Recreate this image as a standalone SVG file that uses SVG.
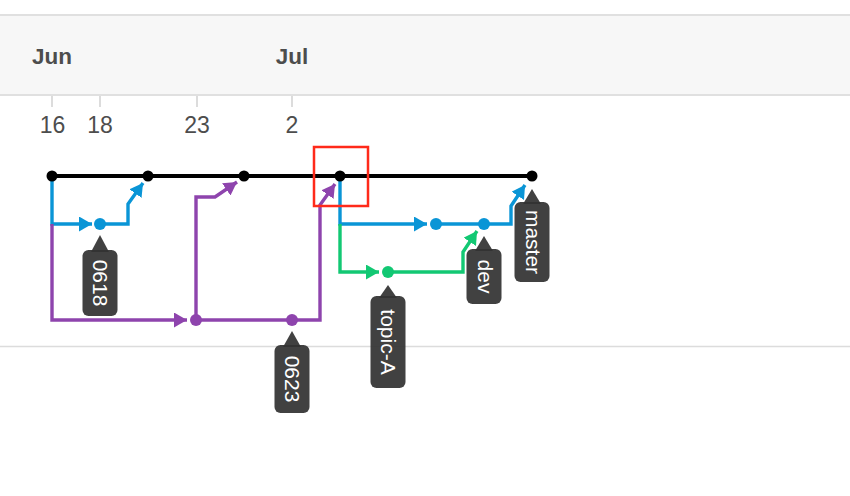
<svg xmlns="http://www.w3.org/2000/svg" width="850" height="496" viewBox="0 0 850 496">
<style>
.axis{font-family:"Liberation Sans",Arial,sans-serif;fill:#4d4d4d;}
.month{font-size:22.5px;font-weight:bold;}
.day{font-size:23px;}
.tick{stroke:#dcdcdc;stroke-width:2;}
.br{fill:none;stroke-width:3.4;stroke-linejoin:miter;}
.blue{stroke:#0a95d6;}
.purple{stroke:#8e44ad;}
.green{stroke:#12c873;}
.lbl rect,.lbl polygon{fill:#333;fill-opacity:0.93;}
.lbl text{font-family:"Liberation Sans",Arial,sans-serif;font-size:21px;fill:#fff;text-anchor:middle;}
</style>
<defs>
<marker id="ab" markerUnits="userSpaceOnUse" markerWidth="15" markerHeight="15" refX="13" refY="7.5" orient="auto" viewBox="0 0 15 15"><path d="M0,0 L13,7.5 L0,15 z" fill="#0a95d6"/></marker>
<marker id="ap" markerUnits="userSpaceOnUse" markerWidth="15" markerHeight="15" refX="13" refY="7.5" orient="auto" viewBox="0 0 15 15"><path d="M0,0 L13,7.5 L0,15 z" fill="#8e44ad"/></marker>
<marker id="ag" markerUnits="userSpaceOnUse" markerWidth="15" markerHeight="15" refX="13" refY="7.5" orient="auto" viewBox="0 0 15 15"><path d="M0,0 L13,7.5 L0,15 z" fill="#12c873"/></marker>
</defs>
<rect width="850" height="496" fill="#fff"/>
<g id="axis">
<rect x="0" y="15" width="850" height="80" fill="#f7f7f7"/>
<line x1="0" y1="15" x2="850" y2="15" stroke="#e0e0e0" stroke-width="2"/>
<line x1="0" y1="95" x2="850" y2="95" stroke="#e0e0e0" stroke-width="2"/>
<text class="axis month" x="52" y="64" text-anchor="middle">Jun</text>
<text class="axis month" x="292" y="64" text-anchor="middle">Jul</text>
<line class="tick" x1="52" y1="96" x2="52" y2="107"/>
<line class="tick" x1="100" y1="96" x2="100" y2="107"/>
<line class="tick" x1="197" y1="96" x2="197" y2="107"/>
<line class="tick" x1="292" y1="96" x2="292" y2="107"/>
<text class="axis day" x="52.5" y="132.5" text-anchor="middle">16</text>
<text class="axis day" x="100" y="132.5" text-anchor="middle">18</text>
<text class="axis day" x="197" y="132.5" text-anchor="middle">23</text>
<text class="axis day" x="292" y="132.5" text-anchor="middle">2</text>
<line x1="0" y1="346.5" x2="850" y2="346.5" stroke="#dcdcdc" stroke-width="1.5"/>
</g>
<g id="connectors">
<line x1="52" y1="176" x2="532" y2="176" stroke="#000" stroke-width="4"/>
<path class="br blue" d="M52,176 V224 H92" marker-end="url(#ab)"/>
<path class="br blue" d="M100,224 H128 V204 L143,183" marker-end="url(#ab)"/>
<path class="br purple" d="M52,224 V320 H187" marker-end="url(#ap)"/>
<path class="br purple" d="M196,320 V197 H215 L237,182" marker-end="url(#ap)"/>
<path class="br purple" d="M196,320 H320 V205 L335,184" marker-end="url(#ap)"/>
<path class="br blue" d="M340,176 V224 H427" marker-end="url(#ab)"/>
<path class="br blue" d="M436,224 H511 V206 L525,185" marker-end="url(#ab)"/>
<path class="br green" d="M340,224 V272 H379" marker-end="url(#ag)"/>
<path class="br green" d="M388,272 H463 V252 L477,231" marker-end="url(#ag)"/>
</g>
<g id="commits">
<circle cx="52" cy="176" r="5.5" fill="#000"/>
<circle cx="148" cy="176" r="5.5" fill="#000"/>
<circle cx="244" cy="176" r="5.5" fill="#000"/>
<circle cx="340" cy="176" r="5.5" fill="#000"/>
<circle cx="532" cy="176" r="5.5" fill="#000"/>
<circle cx="100" cy="224" r="6" fill="#0a95d6"/>
<circle cx="436" cy="224" r="6" fill="#0a95d6"/>
<circle cx="484" cy="224" r="6" fill="#0a95d6"/>
<circle cx="196" cy="320" r="6" fill="#8e44ad"/>
<circle cx="292" cy="320" r="6" fill="#8e44ad"/>
<circle cx="388" cy="272" r="6" fill="#12c873"/>
</g>
<g id="highlight">
<rect x="314" y="147" width="54" height="59" fill="none" stroke="#ff2a1a" stroke-width="2.5"/>
</g>
<g id="label-0618" class="lbl">
<polygon points="100,235 91,252 109,252"/>
<rect x="82.5" y="250" width="35" height="66" rx="6"/>
<text transform="translate(100,283) rotate(90)" y="7.5">0618</text>
</g>
<g id="label-0623" class="lbl">
<polygon points="292,331 283,347 301,347"/>
<rect x="274.5" y="345" width="35" height="68" rx="6"/>
<text transform="translate(292,379) rotate(90)" y="7.5">0623</text>
</g>
<g id="label-topic-A" class="lbl">
<polygon points="388,285 379,298 397,298"/>
<rect x="370.5" y="296" width="35" height="92" rx="6"/>
<text transform="translate(388,342) rotate(90)" y="7">topic-A</text>
</g>
<g id="label-dev" class="lbl">
<polygon points="484,236 475,251 493,251"/>
<rect x="466.5" y="249" width="35" height="55" rx="6"/>
<text transform="translate(484,276.5) rotate(90)" y="6.5">dev</text>
</g>
<g id="label-master" class="lbl">
<polygon points="532,189 523,204 541,204"/>
<rect x="514.5" y="202" width="35" height="80" rx="6"/>
<text transform="translate(532,242) rotate(90)" y="6.5">master</text>
</g>
</svg>
